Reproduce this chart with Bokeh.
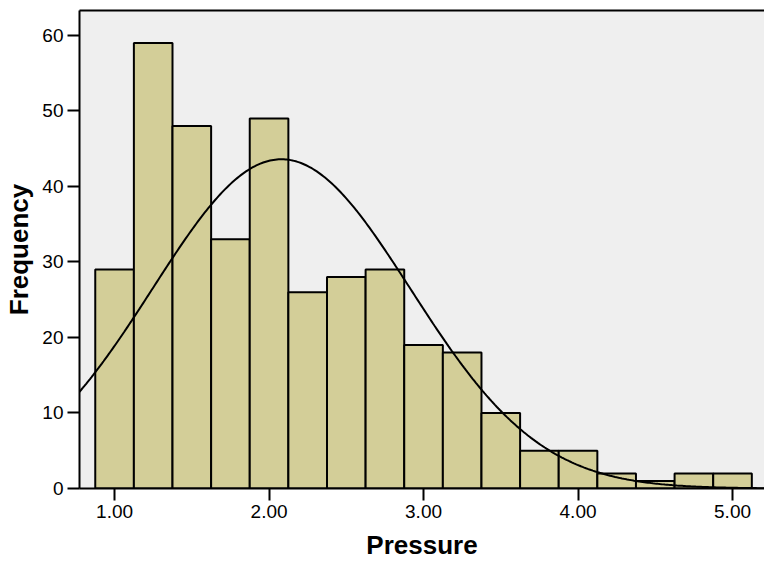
import numpy as np
from bokeh.plotting import figure
from bokeh.models import FixedTicker, NumeralTickFormatter, LinearAxis, Range1d, ColumnDataSource
from bokeh.embed import file_html
from bokeh.resources import INLINE

# Histogram of Pressure (bin width 0.25)
bin_left = [0.875, 1.125, 1.375, 1.625, 1.875, 2.125, 2.375, 2.625, 2.875,
            3.125, 3.375, 3.625, 3.875, 4.125, 4.375, 4.625, 4.875]
counts = [29, 59, 48, 33, 49, 26, 28, 29, 19, 18, 10, 5, 5, 2, 1, 2, 2]
bin_width = 0.25
mean_val = 2.08
sd_val = 0.835
x_ticks = [1.0, 2.0, 3.0, 4.0, 5.0]
y_ticks = [0, 10, 20, 30, 40, 50, 60]

n_total = sum(counts)
bin_right = [b + bin_width for b in bin_left]
src = ColumnDataSource(dict(left=bin_left, right=bin_right, top=counts, bottom=[0] * len(counts)))

p = figure(width=764, height=562, output_backend="svg", toolbar_location=None,
           x_range=Range1d(0.773, 5.207), y_range=Range1d(0, 63.3),
           min_border_left=79, min_border_top=10, min_border_bottom=72, min_border_right=0,
           x_axis_label="Pressure", y_axis_label="Frequency")
p.background_fill_color = "#EFEFEF"
p.border_fill_color = "white"
p.outline_line_color = None
p.xgrid.visible = False
p.ygrid.visible = False

p.quad(left="left", right="right", top="top", bottom="bottom", source=src,
       fill_color="#D3CE98", line_color="black", line_width=2)

xs = np.linspace(0.773, 5.207, 400)
ys = n_total * bin_width / (sd_val * np.sqrt(2 * np.pi)) * np.exp(-0.5 * ((xs - mean_val) / sd_val) ** 2)
p.line(xs, ys, line_color="black", line_width=2)

for ax in (p.xaxis[0], p.yaxis[0]):
    ax.axis_line_width = 2
    ax.axis_line_color = "black"
    ax.major_tick_line_width = 2
    ax.major_tick_in = 0
    ax.major_tick_out = 12
    ax.minor_tick_line_color = None
    ax.major_label_text_font = "Liberation Sans"
    ax.major_label_text_font_size = "19px"
    ax.major_label_text_color = "black"
    ax.axis_label_text_font = "Liberation Sans"
    ax.axis_label_text_font_size = "26px"
    ax.axis_label_text_font_style = "bold"
    ax.axis_label_text_color = "black"

p.xaxis[0].ticker = FixedTicker(ticks=x_ticks)
p.xaxis[0].formatter = NumeralTickFormatter(format="0.00")
p.xaxis[0].major_label_standoff = 4
p.xaxis[0].axis_label_standoff = 9
p.yaxis[0].ticker = FixedTicker(ticks=y_ticks)
p.yaxis[0].major_label_standoff = 4
p.yaxis[0].axis_label_standoff = 5

top_axis = LinearAxis(axis_line_width=2, axis_line_color="black",
                      major_tick_line_color=None, minor_tick_line_color=None,
                      major_tick_out=0, major_label_standoff=0,
                      major_label_text_font_size="0px", major_label_text_alpha=0)
p.add_layout(top_axis, "above")

open("out.html", "w").write(file_html(p, INLINE))
